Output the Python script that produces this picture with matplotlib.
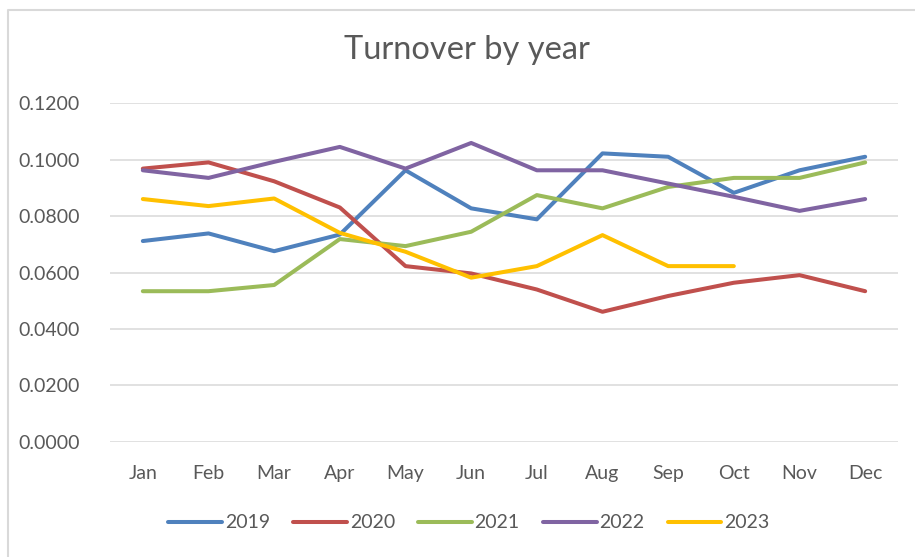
import matplotlib
matplotlib.use("Agg")
import matplotlib.pyplot as plt
from matplotlib.lines import Line2D

months = ["Jan", "Feb", "Mar", "Apr", "May", "Jun",
          "Jul", "Aug", "Sep", "Oct", "Nov", "Dec"]
t2019 = [0.0712, 0.0739, 0.0676, 0.0735, 0.0963, 0.0828,
         0.0789, 0.1023, 0.1011, 0.0883, 0.0963, 0.1011]
t2020 = [0.0969, 0.0991, 0.0924, 0.0831, 0.0623, 0.0597,
         0.0540, 0.0461, 0.0517, 0.0564, 0.0591, 0.0534]
t2021 = [0.0534, 0.0534, 0.0556, 0.0719, 0.0694, 0.0745,
         0.0875, 0.0828, 0.0904, 0.0936, 0.0936, 0.0991]
t2022 = [0.0963, 0.0936, 0.0993, 0.1046, 0.0969, 0.1060,
         0.0963, 0.0963, 0.0916, 0.0869, 0.0819, 0.0861]
t2023 = [0.0861, 0.0836, 0.0863, 0.0741, 0.0674, 0.0582,
         0.0623, 0.0733, 0.0623, 0.0623]
yticks = [0.0, 0.02, 0.04, 0.06, 0.08, 0.10, 0.12]

series = [("2019", t2019, "#4F81BD"), ("2020", t2020, "#C0504D"),
          ("2021", t2021, "#9BBB59"), ("2022", t2022, "#8064A2"),
          ("2023", t2023, "#FFC000")]

plt.rcParams["font.family"] = ["Lato", "DejaVu Sans"]
TXT = "#595959"

fig = plt.figure(figsize=(9.15, 5.57), dpi=100)
# chart frame: only top and left edges show in the screenshot
fig.lines.append(Line2D([8 / 915, 8 / 915, 1.0], [0.0, 1 - 10 / 557, 1 - 10 / 557],
                        transform=fig.transFigure, color="#D9D9D9", lw=1.5))
ax = fig.add_axes([110 / 915, 1 - 441.7 / 557, 788 / 915, 338.2 / 557])

x = list(range(len(months)))
for name, vals, col in series:
    ax.plot(x[:len(vals)], vals, color=col, lw=2.9, label=name,
            solid_joinstyle="round", solid_capstyle="round")

ax.set_xlim(-0.5, 11.5)
ax.set_ylim(0, 0.12)
ax.set_yticks(yticks)
ax.set_yticklabels([f"{v:.4f}" for v in yticks])
ax.set_xticks(x)
ax.set_xticklabels(months)
ax.grid(axis="y", color="#D9D9D9", lw=1.1)
ax.set_axisbelow(True)
for s in ax.spines.values():
    s.set_visible(False)
ax.tick_params(length=0, labelsize=14, colors=TXT)
ax.tick_params(axis="y", pad=22)
ax.tick_params(axis="x", pad=17)

fig.text(467 / 915, 1 - 50 / 557, "Turnover by year", ha="center", va="center",
         fontsize=23.5, color=TXT)

fig.legend(loc="center", bbox_to_anchor=(469 / 915, 1 - 523 / 557), ncol=5,
           frameon=False, fontsize=14, labelcolor=TXT, handlelength=2.75,
           handletextpad=0.15, columnspacing=1.2)

fig.savefig("out.png", dpi=100)
